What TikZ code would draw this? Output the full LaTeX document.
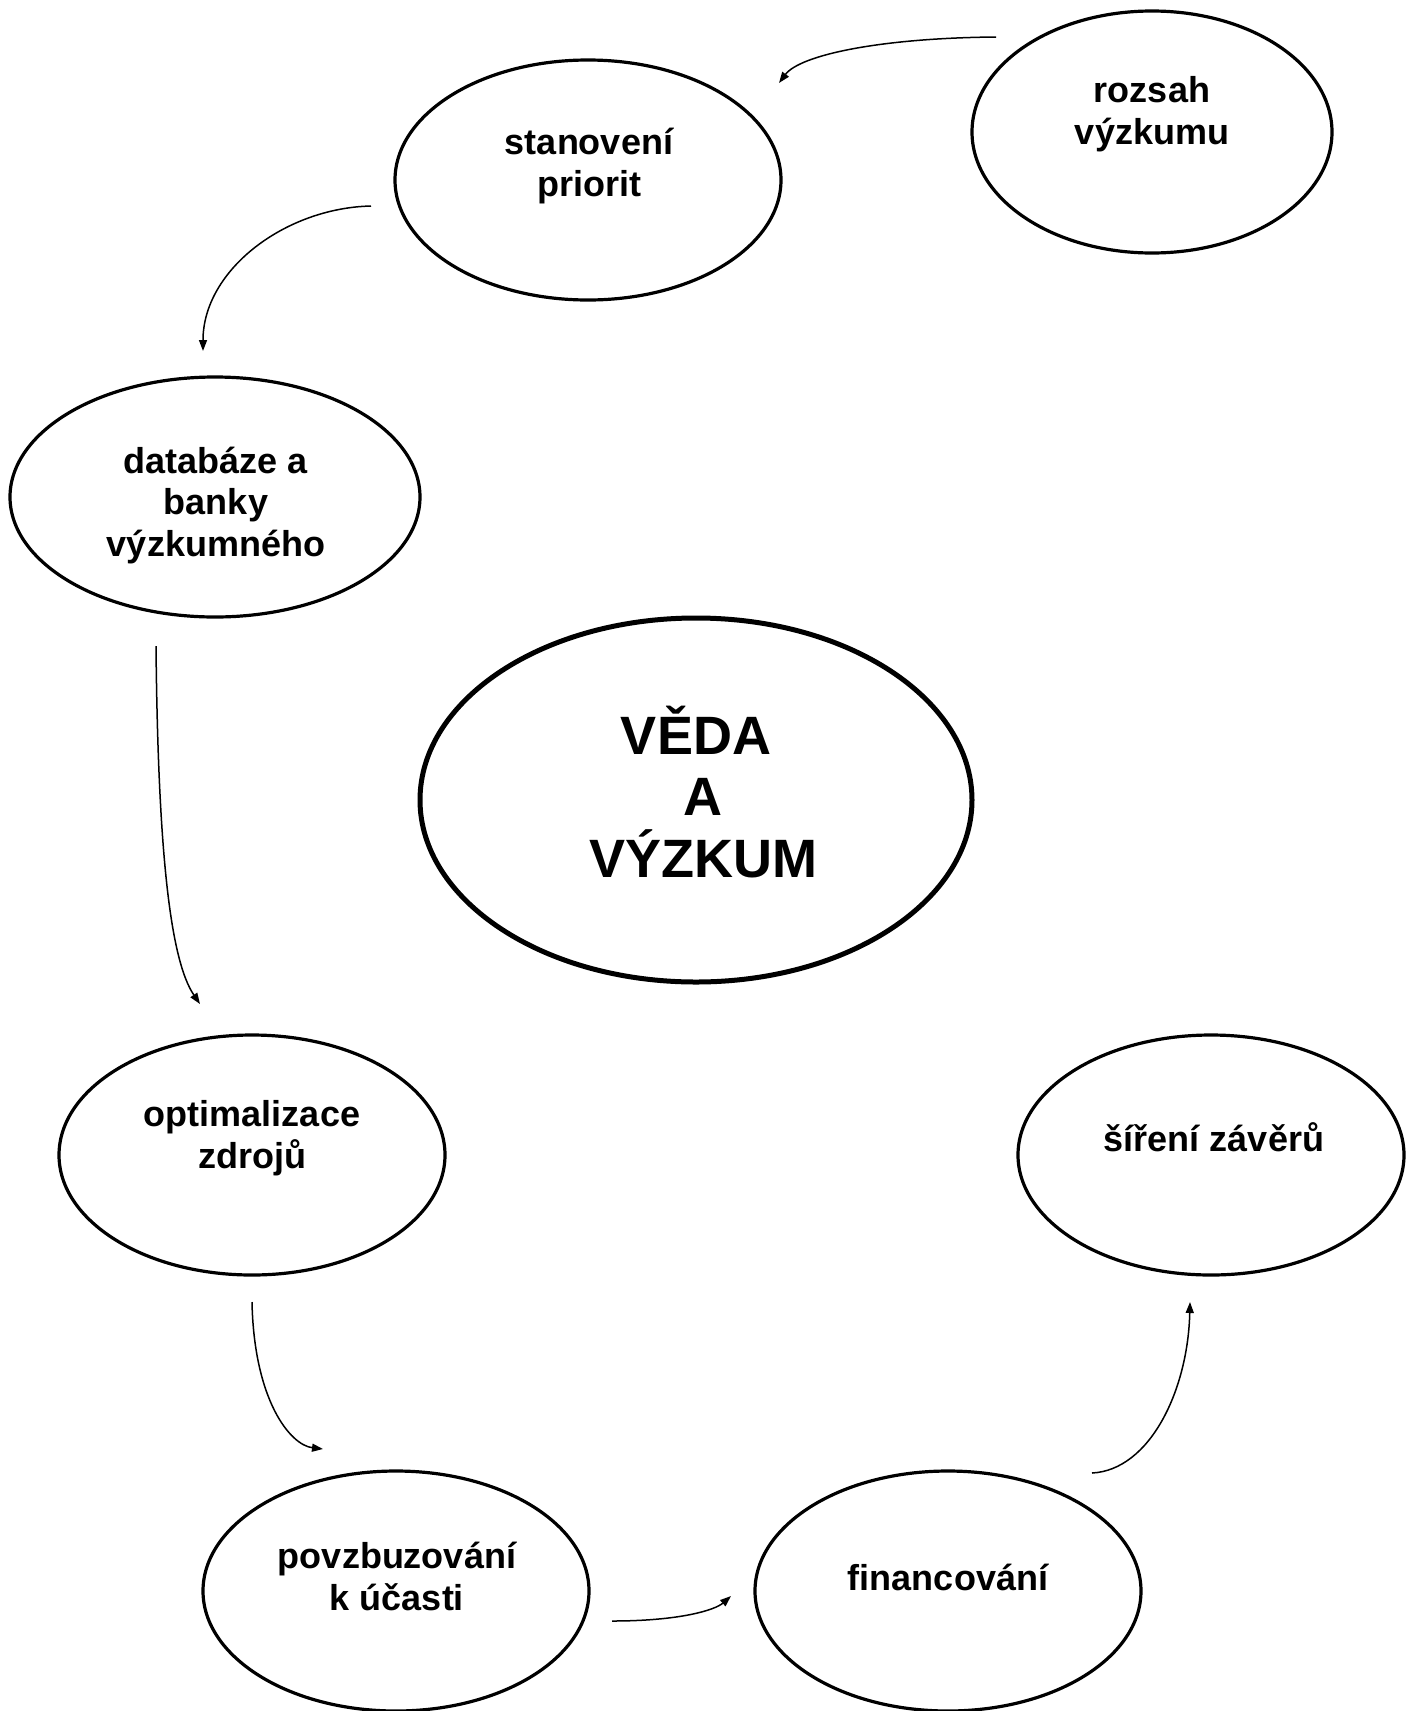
\documentclass[tikz,border=0pt]{standalone}
\usepackage{fontspec}
\setmainfont{Liberation Sans}
\usetikzlibrary{shapes.geometric,arrows.meta}
\begin{document}
\begin{tikzpicture}[x=1pt,y=-1pt,
  bub/.style={draw,ellipse,line width=3.2pt,inner sep=0pt},
  bigbub/.style={draw,ellipse,line width=5pt,inner sep=0pt},
  lab/.style={align=center,font=\fontsize{36}{41.5}\selectfont\bfseries,anchor=base,inner sep=0pt},
  biglab/.style={align=center,font=\fontsize{54}{61.5}\selectfont\bfseries,anchor=base,inner sep=0pt},
  conn/.style={line width=1.5pt,-{Triangle[length=11pt,width=8pt]}}]
\useasboundingbox (0,0) rectangle (1406,1711);
% ellipses
\node[bub,minimum width=360pt,minimum height=242pt] (rozsah) at (1152,132) {};
\node[bub,minimum width=386pt,minimum height=240pt] (stan) at (588,180) {};
\node[bub,minimum width=410pt,minimum height=240pt] (datab) at (215,497) {};
\node[bigbub,minimum width=552pt,minimum height=364pt] (veda) at (696,800) {};
\node[bub,minimum width=386pt,minimum height=240pt] (optim) at (252,1155) {};
\node[bub,minimum width=386pt,minimum height=240pt] (sireni) at (1211,1155) {};
\node[bub,minimum width=386pt,minimum height=240pt] (povzb) at (396,1591) {};
\node[bub,minimum width=386pt,minimum height=240pt] (financ) at (948,1591) {};
% labels
\node[lab] (trozsah) at (1152,144) {rozsah\\výzkumu};
\node[lab] (tstan) at (589,196) {stanovení\\priorit};
\node[lab] (tdatab) at (216,556) {databáze a\\banky\\výzkumného};
\node[biglab] (tveda) at (703,877) {VĚDA\rule{14pt}{0pt}\\A\\VÝZKUM};
\node[lab] (toptim) at (252,1168) {optimalizace\\zdrojů};
\node[lab] (tsireni) at (1214,1151) {šíření závěrů};
\node[lab] (tpovzb) at (397,1610) {povzbuzování\\k účasti};
\node[lab] (tfinanc) at (948,1590) {financování};
% connector end points
\coordinate (a1) at (996,37);  \coordinate (b1) at (779,83);
\coordinate (a2) at (371,206); \coordinate (b2) at (203,351);
\coordinate (a3) at (156,646); \coordinate (b3) at (200,1004);
\coordinate (a4) at (252,1302); \coordinate (b4) at (323,1449);
\coordinate (a5) at (612,1621); \coordinate (b5) at (731,1596);
\coordinate (a6) at (1092,1473); \coordinate (b6) at (1190,1302);
% connectors
\draw[conn] (a1) .. controls (880,38) and (800,55) .. (b1);
\draw[conn] (a2) .. controls (285,208) and (203,270) .. (b2);
\draw[conn] (a3) .. controls (158,850) and (170,960) .. (b3);
\draw[conn] (a4) .. controls (254,1400) and (290,1445) .. (b4);
\draw[conn] (a5) .. controls (680,1621) and (715,1610) .. (b5);
\draw[conn] (a6) .. controls (1150,1470) and (1188,1390) .. (b6);
\end{tikzpicture}
\end{document}
